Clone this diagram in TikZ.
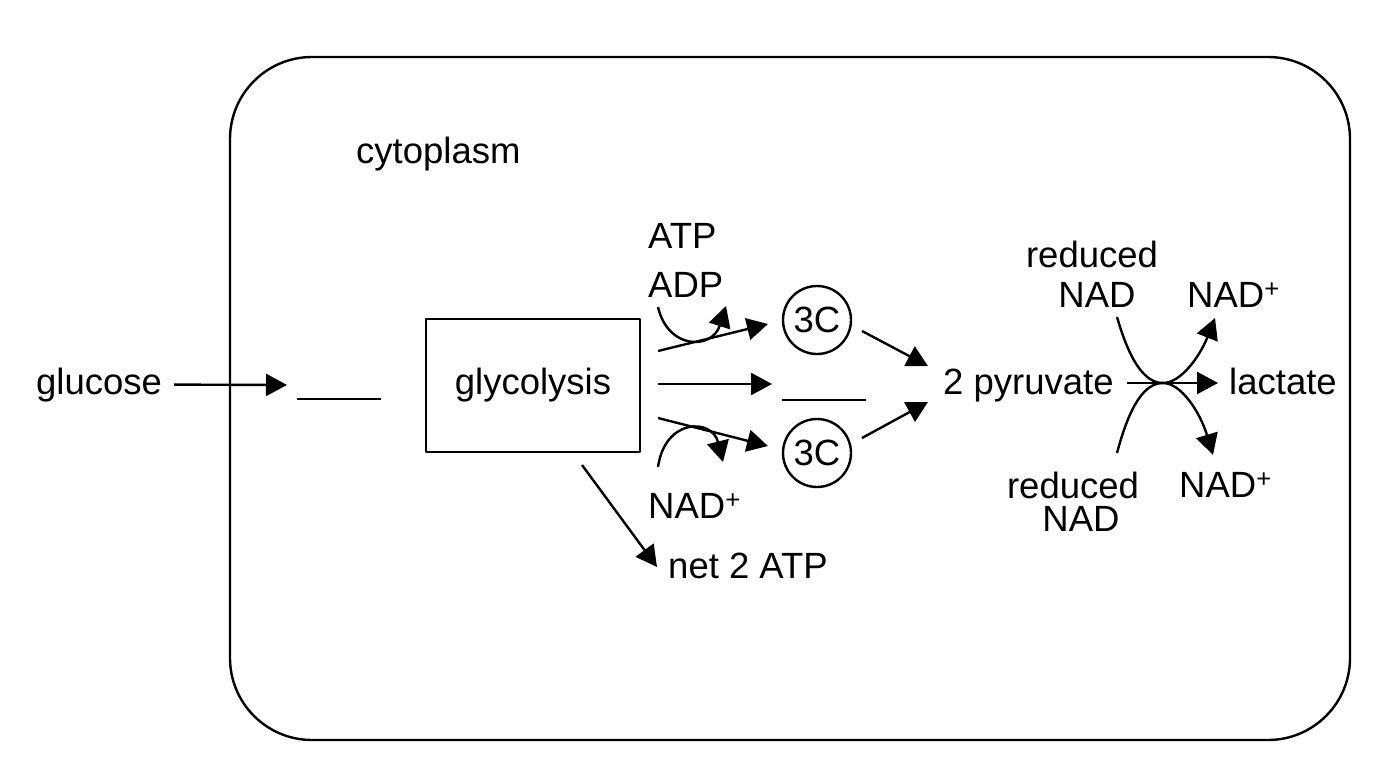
\documentclass[tikz,border=0pt]{standalone}
\usepackage{fontspec}
\setmainfont{Liberation Sans}
\usetikzlibrary{arrows.meta}
\begin{document}
\begin{tikzpicture}[x=1pt,y=-1pt,line width=2.4pt,line join=round,
  lbl/.style={inner sep=0pt,font=\fontsize{36.5}{40}\selectfont},
  arr/.style={-{Triangle[length=21pt,width=22pt]}},
  circ/.style={draw,circle,inner sep=0pt,minimum size=68pt,font=\fontsize{36.5}{40}\selectfont},
  boxnode/.style={draw,inner sep=0pt,minimum width=214pt,minimum height=133pt,font=\fontsize{36.5}{40}\selectfont}]
\useasboundingbox (0,0) rectangle (1376,768);
% cell
\draw[rounded corners=82pt] (230,57) rectangle (1350,740);
\node[lbl,anchor=base west] (cyto) at (355,163) {cytoplasm};
% glucose
\node[lbl,anchor=base west] (gluc) at (35,394) {glucose};
\coordinate (g1) at (287,385);
\draw[arr,shorten <=11pt] (gluc.east) -- (g1);
\coordinate (bl1a) at (297,399);
\coordinate (bl1b) at (381,399);
\draw (bl1a) -- (bl1b);
% glycolysis
\node[boxnode] (glyc) at (533,385.5) {glycolysis};
% outputs
\coordinate (s1) at (658,351);
\coordinate (s2) at (658,384);
\coordinate (s3) at (658,418);
\coordinate (t1) at (768,324);
\coordinate (t2) at (772,384);
\coordinate (t3) at (768,446);
\draw[arr] (s1) -- (t1);
\draw[arr] (s2) -- (t2);
\draw[arr] (s3) -- (t3);
\node[circ] (c1) at (817,320) {3C};
\node[circ] (c2) at (817,453) {3C};
\coordinate (bl2a) at (782,400);
\coordinate (bl2b) at (866,400);
\draw (bl2a) -- (bl2b);
% ATP / ADP
\node[lbl,anchor=base west] (atp) at (647,248) {ATP};
\node[lbl,anchor=base west] (adp) at (647,297) {ADP};
\coordinate (ca) at (658,307);
\coordinate (cb) at (726,306);
\draw[arr] (ca) .. controls (668,350) and (712,350) .. (cb);
% NAD+ left
\node[lbl,anchor=base west] (nadl) at (647,518) {NAD\textsuperscript{+}};
\coordinate (cc) at (658,467);
\coordinate (cd) at (723,462);
\draw[arr] (cc) .. controls (665,418) and (712,418) .. (cd);
% net 2 ATP
\node[lbl,anchor=base west] (net) at (667,578) {net 2 ATP};
\coordinate (n1) at (582,465);
\coordinate (n2) at (657,567);
\draw[arr] (n1) -- (n2);
% to pyruvate
\node[lbl,anchor=base west] (pyr) at (942,394) {2 pyruvate};
\coordinate (p1s) at (862,331);
\coordinate (p1e) at (928,366);
\coordinate (p2s) at (862,438);
\coordinate (p2e) at (928,402);
\draw[arr] (p1s) -- (p1e);
\draw[arr] (p2s) -- (p2e);
% lactate
\node[lbl,anchor=base west] (lac) at (1228,394) {lactate};
\coordinate (l1) at (1127,383);
\coordinate (l2) at (1218,383);
\draw[arr] (l1) -- (l2);
\coordinate (x) at (1163,383);
% top reduced NAD
\node[lbl,anchor=base] (red1) at (1092,267) {reduced};
\node[lbl,anchor=base] (nad1) at (1097,307) {NAD};
\node[lbl,anchor=base west] (nadp1) at (1186,307) {NAD\textsuperscript{+}};
\coordinate (r1s) at (1117,317);
\coordinate (r1e) at (1215,318);
\draw[arr] (r1s) .. controls (1130,362) and (1145,383) .. (x) .. controls (1181,383) and (1200,356) .. (r1e);
% bottom reduced NAD
\node[lbl,anchor=base] (red2) at (1073,498) {reduced};
\node[lbl,anchor=base] (nad2) at (1081,531) {NAD};
\node[lbl,anchor=base west] (nadp2) at (1178,497) {NAD\textsuperscript{+}};
\coordinate (r2s) at (1117,453);
\coordinate (r2e) at (1213,455);
\draw[arr] (r2s) .. controls (1130,404) and (1145,383) .. (x) .. controls (1181,383) and (1200,412) .. (r2e);
\end{tikzpicture}
\end{document}
